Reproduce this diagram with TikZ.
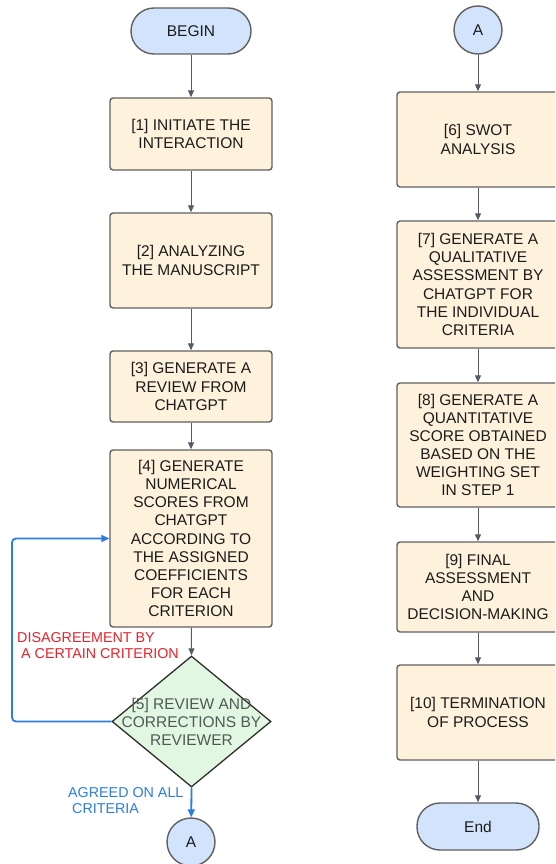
\documentclass[tikz,border=0pt]{standalone}
\usepackage{fontspec}
\setmainfont{Liberation Sans}
\usetikzlibrary{arrows.meta,shapes.geometric}
\definecolor{boxfill}{HTML}{FEF2DC}
\definecolor{boxline}{HTML}{606060}
\definecolor{termfill}{HTML}{D2E3FC}
\definecolor{decfill}{HTML}{E2F7E2}
\definecolor{decline}{HTML}{2E2E2E}
\definecolor{arrowgray}{HTML}{545B66}
\definecolor{loopblue}{HTML}{2A7DE1}
\definecolor{labred}{HTML}{E8222B}
\definecolor{dectext}{HTML}{505A55}
\definecolor{maintext}{HTML}{1C1C1C}
\begin{document}
\begin{tikzpicture}[x=1pt,y=-1pt,
  every node/.style={font=\fontsize{15.5}{18.1}\selectfont, text=maintext},
  stepbox/.style={draw=boxline, fill=boxfill, line width=1.4pt, rounded corners=3pt,
    minimum width=162pt, align=center, inner sep=0pt},
  term/.style={draw=boxline, fill=termfill, line width=1.4pt, rounded corners=23pt,
    minimum width=120pt, minimum height=46pt, inner sep=0pt},
  conn/.style={draw=boxline, fill=termfill, circle, line width=1.4pt,
    minimum size=48pt, inner sep=0pt},
  decision/.style={diamond, draw=decline, fill=decfill, line width=1.3pt,
    minimum width=159pt, minimum height=131pt, inner sep=0pt},
  dectxt/.style={align=center, text=dectext, inner sep=0pt},
  flow/.style={draw=arrowgray, line width=1pt, -{Triangle[length=7pt,width=6pt]}},
  loopflow/.style={draw=loopblue, line width=1.8pt, -{Triangle[length=8pt,width=7pt]}, rounded corners=4pt},
  lab/.style={font=\fontsize{14.3}{16}\selectfont, align=left, inner sep=0pt, anchor=west},
]
\clip (0,0) rectangle (555,864);
\fill[white] (0,0) rectangle (555,864);

% left column
\node[term] (begin) at (191,31) {BEGIN};
\node[stepbox, minimum height=72pt] (b1) at (191,134) {[1] INITIATE THE\\INTERACTION};
\node[stepbox, minimum height=95pt] (b2) at (191,260.5) {[2] ANALYZING\\THE MANUSCRIPT};
\node[stepbox, minimum height=71pt] (b3) at (191,386.5) {[3] GENERATE A\\REVIEW FROM\\CHATGPT};
\node[stepbox, minimum height=177pt] (b4) at (191,538.5) {[4] GENERATE\\NUMERICAL\\SCORES FROM\\CHATGPT\\ACCORDING TO\\THE ASSIGNED\\COEFFICIENTS\\FOR EACH\\CRITERION};
\node[decision] (d5) at (191.5,721.5) {};
\node[dectxt] (d5t) at (d5.center) {[5] REVIEW AND\\CORRECTIONS BY\\REVIEWER};
\node[conn] (a1) at (191,842) {A};

% right column
\node[conn] (a2) at (478,30) {A};
\node[stepbox, minimum height=95pt] (b6) at (478,139.5) {[6] SWOT\\ANALYSIS};
\node[stepbox, minimum height=127pt] (b7) at (478,284.5) {[7] GENERATE A\\QUALITATIVE\\ASSESSMENT BY\\CHATGPT FOR\\THE INDIVIDUAL\\CRITERIA};
\node[stepbox, minimum height=124pt] (b8) at (478,445) {[8] GENERATE A\\QUANTITATIVE\\SCORE OBTAINED\\BASED ON THE\\WEIGHTING SET\\IN STEP 1};
\node[stepbox, minimum height=90pt] (b9) at (478,587) {[9] FINAL\\ASSESSMENT\\AND\\DECISION-MAKING};
\node[stepbox, minimum height=95pt] (b10) at (478,712.5) {[10] TERMINATION\\OF PROCESS};
\node[term, minimum width=122pt, minimum height=47pt] (end) at (478,826.5) {End};

% connectors
\draw[flow] (begin) -- (b1);
\draw[flow] (b1) -- (b2);
\draw[flow] (b2) -- (b3);
\draw[flow] (b3) -- (b4);
\draw[flow] (b4) -- (d5.north);
\draw[loopflow] (d5.south) -- (a1);
\coordinate (lc) at (12,721.5);
\draw[loopflow] (d5.west) -- (lc) |- (b4.west);

\draw[flow] (a2) -- (b6);
\draw[flow] (b6) -- (b7);
\draw[flow] (b7) -- (b8);
\draw[flow] (b8) -- (b9);
\draw[flow] (b9) -- (b10);
\draw[flow] (b10) -- (end);

% labels
\node[lab, text=labred] (ldis) at (17,646) {DISAGREEMENT BY\\\hspace*{4pt}A CERTAIN CRITERION};
\node[lab, text=loopblue] (lagr) at (68,801) {AGREED ON ALL\\\hspace*{4pt}CRITERIA};
\end{tikzpicture}
\end{document}
